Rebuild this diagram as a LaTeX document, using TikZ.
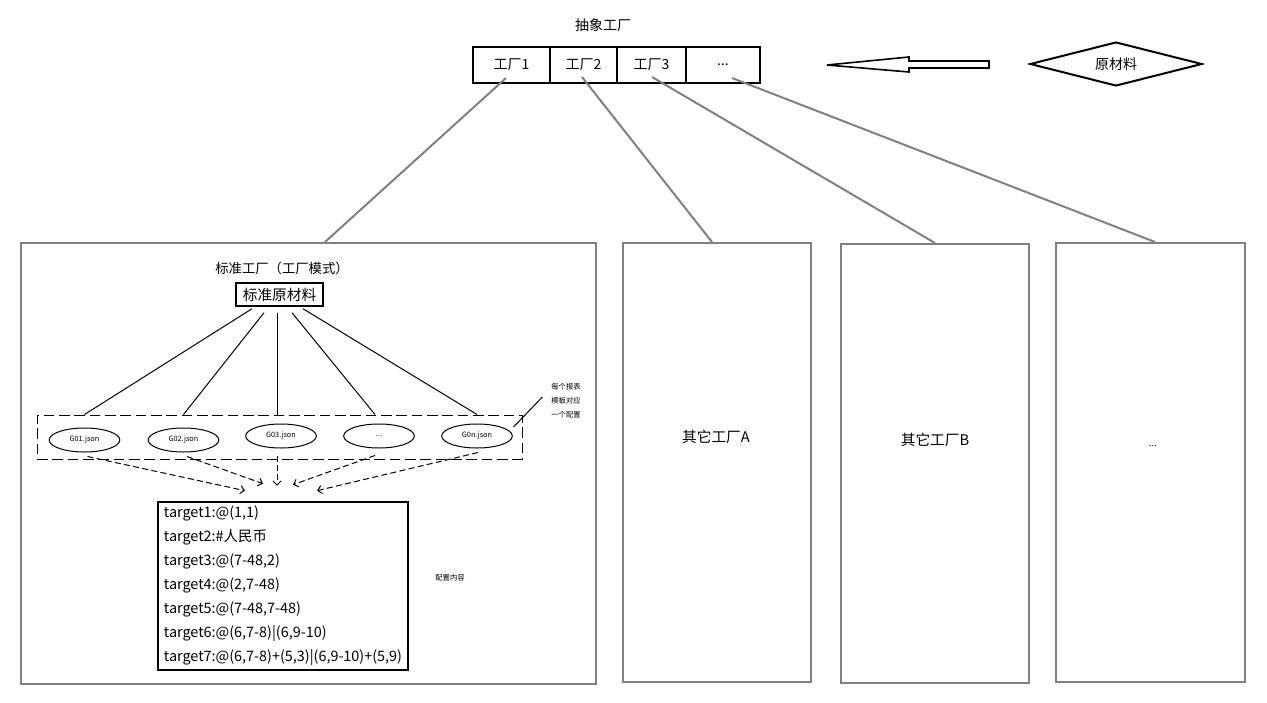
\documentclass[tikz,border=0pt]{standalone}
\usepackage{fontspec}
\setmainfont{Noto Sans CJK SC}
\usetikzlibrary{calc,shapes.geometric,arrows.meta}

\tikzset{every picture/.style={line width=0.75pt}}
\tikzset{
	factory/.style={draw, line width=1.5pt, minimum height=27pt, inner sep=0pt},
	panel/.style={draw={rgb, 255:red, 128; green, 128; blue, 128 }, line width=1.5pt, inner sep=0pt},
	link/.style={draw={rgb, 255:red, 128; green, 128; blue, 128 }, line width=1.5pt},
	json/.style={draw, ellipse, minimum width=53pt, minimum height=18pt, inner sep=0pt, font=\fontsize{5.5}{7}\selectfont},
	feed/.style={dash pattern=on 4.5pt off 2.5pt, -{Straight Barb[length=3pt,width=6pt]}},
	tinytext/.style={font=\fontsize{5.5}{10.5}\selectfont}}

\begin{document}
\begin{tikzpicture}[x=0.75pt,y=0.75pt,yscale=-1,xscale=1,every node/.append style={font=\fontsize{10.5}{13}\selectfont}]
	\path (0,0) rectangle (1267,703); %set diagram size

	% Text Node
	\node (title) at (603,25) {抽象工厂};
	%Shape: Rectangle -- factory row
	\node[factory, minimum width=57.75pt] (f1) at (511.5,64.5) {工厂1};
	\node[factory, minimum width=50.25pt] (f2) at (583.5,64.5) {工厂2};
	\node[factory, minimum width=51.75pt] (f3) at (651.5,64.5) {工厂3};
	\node[factory, minimum width=55.5pt] (f4) at (723,64.5) {...};
	%Shape: Block Arrow
	\draw [line width=1.2pt, line join=miter] (989,61) -- (909,61) -- (909,57) -- (827,65) -- (909,72) -- (909,68) -- (989,68) -- cycle ;
	%Shape: Diamond
	\node[draw, diamond, aspect=3.9, line width=1.5pt, inner sep=0pt, minimum width=129pt, minimum height=33pt] (raw0) at (1116,64) {原材料};

	%Shape: Rectangle -- panels
	\node[panel, minimum width=431.25pt, minimum height=330.75pt] (p1) at (308.5,463.5) {};
	\node[panel, minimum width=141pt, minimum height=329.25pt] (pA) at (717,462.5) {};
	\node[panel, minimum width=141pt, minimum height=329.25pt] (pB) at (935,463.5) {};
	\node[panel, minimum width=141.75pt, minimum height=329.25pt] (pC) at (1150.5,462.5) {};
	% Text Node
	\node[font=\fontsize{11}{13}\selectfont] (labA) at (716,437) {其它工厂A};
	\node[font=\fontsize{11}{13}\selectfont] (labB) at (935,440) {其它工厂B};
	\node[font=\fontsize{7}{9}\selectfont] (labC) at (1153,446) {...};

	%Straight Lines -- factories to panels
	\draw[link] ($(f1.center)+(-5.5,13.5)$) -- ($(p1.north)+(16.5,0)$) ;
	\draw[link] ($(f2.center)+(-1.5,12.5)$) -- ($(pA.north)+(-5,0)$) ;
	\draw[link] ($(f3.center)+(0.5,12.5)$) -- (pB.north) ;
	\draw[link] ($(f4.center)+(9,13.5)$) -- ($(pC.north)+(4.5,0)$) ;

	% Text Node
	\node[font=\fontsize{10}{12}\selectfont] (stdtitle) at (282,268) {标准工厂（工厂模式）};
	%Shape: Rectangle
	\node[draw, line width=1.1pt, inner sep=0pt, minimum width=65.25pt, minimum height=17.25pt, font=\fontsize{11}{13}\selectfont] (raw) at (279.5,294.5) {标准原材料};
	%Shape: Rectangle -- dashed group
	\node[draw, dash pattern=on 8pt off 3.5pt, minimum width=363.75pt, minimum height=33pt] (grp) at (279.5,437) {};
	%Shape: Ellipse
	\node[json] (g1) at (84.5,440) {G01.json};
	\node[json] (g2) at (183.5,440) {G02.json};
	\node[json] (g3) at (281,436) {G03.json};
	\node[json] (g4) at (379,436) {...};
	\node[json] (g5) at (477,436) {G0n.json};

	%Straight Lines
	\draw ($(raw.south)+(-27.5,2)$) -- (g1 |- grp.north) ;
	\draw ($(raw.south)+(-15.5,6)$) -- (g2 |- grp.north) ;
	\draw ($(raw.south)+(-2.5,6)$) -- ($(g3 |- grp.north)+(-4,0)$) ;
	\draw ($(raw.south)+(12.5,6)$) -- ($(g4 |- grp.north)+(-4,0)$) ;
	\draw ($(raw.south)+(23.5,2)$) -- (g5 |- grp.north) ;

	% Text Node
	\node[tinytext, align=left] (note) at (566,401) {每个报表\\模板对应\\一个配置};
	\draw ($(grp.east)+(-9,-10)$) -- ($(note.west)+(-4,-4)$) ;

	%Shape: Rectangle -- config content
	\node[draw, line width=2pt, inner sep=0pt, minimum width=187.5pt, minimum height=126pt, align=left, font=\fontsize{10.8}{18}\selectfont] (tgt) at (283,586) {target1:@(1,1)\\target2:\#人民币\\target3:@(7-48,2)\\target4:@(2,7-48)\\target5:@(7-48,7-48)\\target6:@(6,7-8)|(6,9-10)\\target7:@(6,7-8)+(5,3)|(6,9-10)+(5,9)};
	% Text Node
	\node[tinytext] (cfg) at (450,578) {配置内容};

	%Dashed Arrows
	\draw[feed] ($(g1.south)+(3,4)$) -- ($(tgt.north)+(-38,-10)$) ;
	\draw[feed] ($(g2.south)+(3.5,4)$) -- ($(tgt.north)+(-20,-17)$) ;
	\draw[feed] ($(g3.south)+(-4,7)$) -- ($(tgt.north)+(-6,-15)$) ;
	\draw[feed] ($(g4.south)+(-4,7)$) -- ($(tgt.north)+(10,-16)$) ;
	\draw[feed] ($(g5.south)+(1,4)$) -- ($(tgt.north)+(34,-10)$) ;

\end{tikzpicture}
\end{document}
